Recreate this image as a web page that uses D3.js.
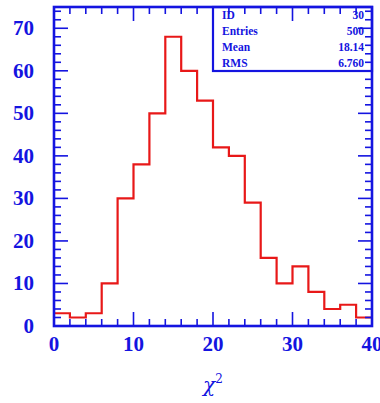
<!DOCTYPE html>
<html>
<head>
<meta charset="utf-8">
<script src="https://cdn.jsdelivr.net/npm/d3@7"></script>
<style>
  body { margin: 0; background: #fff; }
  text { font-family: "Liberation Serif", "DejaVu Serif", serif; fill: #1414e0; }
</style>
</head>
<body>
<script>
var W = 380, H = 403,
    BLUE = "#1414e0", RED = "#e81818";

// bin lower edges (width 2) and counts
var binEdges = [0, 2, 4, 6, 8, 10, 12, 14, 16, 18, 20, 22, 24, 26, 28, 30, 32, 34, 36, 38, 40];
var counts = [3, 2, 3, 10, 30, 38, 50, 68, 60, 53, 42, 40, 29, 16, 10, 14, 8, 4, 5, 2];
var xTicks = [0, 10, 20, 30, 40];
var yTicks = [0, 10, 20, 30, 40, 50, 60, 70];
var statLabels = ["ID", "Entries", "Mean", "RMS"];
var statValues = ["30", "500", "18.14", "6.760"];

// note: "top" is reserved on window, so use prefixed names
var pL = 54, pR = 372, pT = 7, pB = 326;

var x = d3.scaleLinear().domain([0, 40]).range([pL, pR]);
var y = d3.scaleLinear().domain([0, 75]).range([pB, pT]);

var svg = d3.select("body").append("svg")
  .attr("width", W)
  .attr("height", H);

// histogram outline
var pts = [];
counts.forEach(function(c, i) {
  pts.push([binEdges[i], c]);
  pts.push([binEdges[i + 1], c]);
});
svg.append("path")
  .attr("d", d3.line().x(function(d) { return x(d[0]); }).y(function(d) { return y(d[1]); })(pts))
  .attr("fill", "none")
  .attr("stroke", RED)
  .attr("stroke-width", 2.2);

// ticks on all sides: minor every 2, major every 10
var minorX = d3.range(0, 41, 2), minorY = d3.range(0, 76, 2);
var ticksG = svg.append("g").attr("stroke", BLUE).attr("stroke-width", 1.6);
function tl(v) { return v % 10 === 0 ? 14 : 7; }
minorX.forEach(function(v) {
  ticksG.append("line").attr("x1", x(v)).attr("x2", x(v)).attr("y1", pB).attr("y2", pB - tl(v));
  ticksG.append("line").attr("x1", x(v)).attr("x2", x(v)).attr("y1", pT).attr("y2", pT + tl(v));
});
minorY.forEach(function(v) {
  ticksG.append("line").attr("y1", y(v)).attr("y2", y(v)).attr("x1", pL).attr("x2", pL + tl(v));
  ticksG.append("line").attr("y1", y(v)).attr("y2", y(v)).attr("x1", pR).attr("x2", pR - tl(v));
});

// frame
svg.append("rect")
  .attr("x", pL).attr("y", pT)
  .attr("width", pR - pL).attr("height", pB - pT)
  .attr("fill", "none")
  .attr("stroke", BLUE)
  .attr("stroke-width", 2.6);

// tick labels
svg.append("g").selectAll("text").data(yTicks).join("text")
  .attr("x", 34).attr("y", function(d) { return y(d) + 7; })
  .attr("text-anchor", "end")
  .attr("font-size", 21).attr("font-weight", "bold")
  .text(function(d) { return d; });

svg.append("g").selectAll("text").data(xTicks).join("text")
  .attr("x", function(d) { return x(d); }).attr("y", 351)
  .attr("text-anchor", "middle")
  .attr("font-size", 21).attr("font-weight", "bold")
  .text(function(d) { return d; });

// axis title
var xt = svg.append("text")
  .attr("x", 213).attr("y", 392)
  .attr("text-anchor", "middle")
  .style("font-family", "'DejaVu Serif', serif")
  .attr("font-size", 20);
xt.append("tspan").attr("font-style", "italic").text("χ");
xt.append("tspan").attr("dy", -9).attr("font-size", 12).text("2");

// stats box
var boxL = 213, boxB = 71;
svg.append("rect")
  .attr("x", boxL).attr("y", pT)
  .attr("width", pR - boxL).attr("height", boxB - pT)
  .attr("fill", "none")
  .attr("stroke", BLUE)
  .attr("stroke-width", 2.2);

var statG = svg.append("g").attr("font-size", 11.5).attr("font-weight", "bold");
statLabels.forEach(function(s, i) {
  statG.append("text").attr("x", 222).attr("y", 19 + i * 16).text(s);
  statG.append("text").attr("x", 364).attr("y", 19 + i * 16).attr("text-anchor", "end").text(statValues[i]);
});
</script>
</body>
</html>
